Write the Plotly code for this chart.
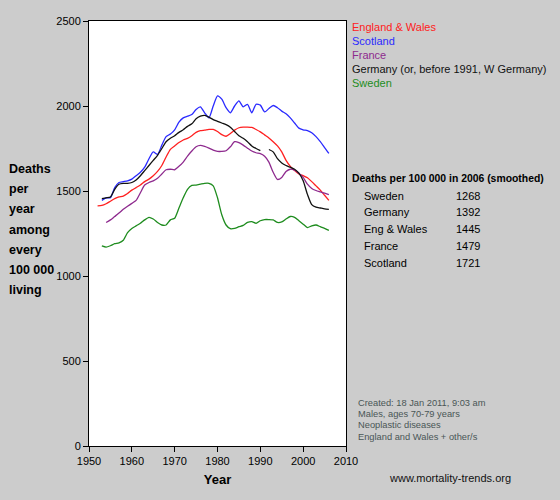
import plotly.graph_objects as go

years = list(range(1952, 2007))

england_wales = [1413, 1415, 1425, 1440, 1455, 1465, 1470, 1485, 1505, 1520, 1535, 1555, 1570, 1590,
                 1615, 1650, 1700, 1745, 1765, 1785, 1800, 1810, 1825, 1845, 1855, 1858, 1862, 1862,
                 1850, 1832, 1822, 1838, 1858, 1872, 1876, 1876, 1874, 1862, 1848, 1830, 1812, 1790,
                 1765, 1730, 1680, 1645, 1620, 1600, 1590, 1578, 1555, 1530, 1505, 1475, 1445]

scotland = [None, 1445, 1460, 1460, 1520, 1550, 1555, 1560, 1570, 1590, 1610, 1640, 1690, 1730,
            1715, 1770, 1820, 1835, 1860, 1905, 1930, 1940, 1950, 1980, 1995, 1960, 1930, 2000,
            2060, 2040, 1990, 1960, 2000, 2030, 1995, 2010, 1960, 2010, 2005, 1965, 1985, 2003,
            1990, 1970, 1955, 1930, 1900, 1870, 1860, 1855, 1843, 1820, 1790, 1755, 1721]

france = [None, None, 1315, 1330, 1350, 1370, 1392, 1410, 1427, 1445, 1490, 1535, 1550, 1560,
          1575, 1600, 1625, 1628, 1625, 1645, 1670, 1705, 1735, 1760, 1768, 1762, 1752, 1740,
          1733, 1733, 1737, 1760, 1790, 1785, 1770, 1752, 1735, 1725, 1720, 1705, 1670, 1610,
          1568, 1580, 1615, 1628, 1622, 1605, 1580, 1540, 1515, 1503, 1495, 1487, 1479]

germany = [None, 1455, 1460, 1465, 1510, 1540, 1545, 1545, 1550, 1565, 1590, 1620, 1650, 1680,
           1710, 1750, 1790, 1810, 1825, 1845, 1860, 1880, 1895, 1925, 1940, 1945, 1935, 1920,
           1910, 1900, 1890, 1875, 1850, 1825, 1810, 1790, 1765, 1750, 1738, None, 1744, 1730,
           1690, 1665, 1650, 1640, 1628, 1605, 1560, 1480, 1420, 1405, 1400, 1395, 1392]

sweden = [None, 1177, 1170, 1178, 1190, 1195, 1210, 1255, 1280, 1295, 1310, 1330, 1345, 1335,
          1315, 1300, 1300, 1330, 1340, 1400, 1460, 1510, 1533, 1535, 1540, 1545, 1545, 1530,
          1460, 1360, 1300, 1278, 1280, 1290, 1298, 1315, 1320, 1310, 1325, 1332, 1332, 1330,
          1315, 1318, 1335, 1350, 1345, 1325, 1305, 1285, 1295, 1300, 1290, 1280, 1268]

series_names = ["England & Wales", "Scotland", "France",
                "Germany (or, before 1991, W Germany)", "Sweden"]
series_values = [england_wales, scotland, france, germany, sweden]
series_colors = ["#ff2020", "#2a2aff", "#8e2a8e", "#111111", "#1e8c1e"]

table_names = ["Sweden", "Germany", "Eng & Wales", "France", "Scotland"]
table_values = ["1268", "1392", "1445", "1479", "1721"]

notes = ["Created: 18 Jan 2011, 9:03 am", "Males, ages 70-79 years",
         "Neoplastic diseases", "England and Wales + other/s"]

y_title_lines = ["Deaths", "per", "year", "among", "every", "100 000", "living"]

FONT = "Liberation Sans, Arial, sans-serif"
BG = "#cccccc"

fig = go.Figure()
for name, vals, col in zip(series_names, series_values, series_colors):
    fig.add_trace(go.Scatter(x=years, y=vals, mode="lines", name=name,
                             line=dict(color=col, width=1.3, shape="spline", smoothing=0.6),
                             connectgaps=False, showlegend=False))

# page offset: the browser's default body margin puts the figure at (8, 8)
OFF = 8
W, H = 560 - OFF, 500 - OFF
PL, PR, PT, PB = 89, 346, 15, 446          # plot area edges in page pixels
L, R, T, B = PL - OFF, W - (PR - OFF), PT - OFF, H - (PB - OFF)

fig.update_layout(
    width=W, height=H,
    margin=dict(l=L, r=R, t=T, b=B, pad=0),
    paper_bgcolor=BG, plot_bgcolor="#ffffff",
    font=dict(family=FONT, size=11, color="#000000"),
    xaxis=dict(range=[1950, 2010], tickvals=[1950, 1960, 1970, 1980, 1990, 2000, 2010],
               showgrid=False, zeroline=False, showline=True, linecolor="#000000", linewidth=1,
               mirror=True, ticks="outside", ticklen=5, tickcolor="#000000",
               tickfont=dict(size=11, family=FONT),
               title=dict(text="<b>Year</b>", font=dict(size=13, family=FONT), standoff=8)),
    yaxis=dict(range=[0, 2500], tickvals=[0, 500, 1000, 1500, 2000, 2500],
               showgrid=False, zeroline=False, showline=True, linecolor="#000000", linewidth=1,
               mirror=True, ticks="outside", ticklen=5, tickcolor="#000000",
               tickfont=dict(size=11, family=FONT)),
)


def add_px(x, y, text, **kw):
    # x, y are page pixels in the reference; convert to paper fraction of plot area
    fx, fy = x - OFF, y - OFF
    px = (fx - L) / (W - L - R)
    py = 1 - (fy - T) / (H - T - B)
    t = f"<b>{text}</b>" if kw.get("bold") else text
    fig.add_annotation(x=px, y=py, xref="paper", yref="paper", text=t, showarrow=False,
                       xanchor=kw.get("anchor", "left"), yanchor="middle",
                       font=dict(size=kw.get("size", 11), color=kw.get("color", "#000000"),
                                 family=kw.get("family", FONT)), align="left")


# Y axis title lines
for i, line in enumerate(y_title_lines):
    add_px(7, 165 + i * 20.5, line, bold=True, size=12.5)

# Legend
for i, (name, col) in enumerate(zip(series_names, series_colors)):
    add_px(350, 21 + i * 14.2, name, color=col, size=11)

# Table
add_px(350, 175, "Deaths per 100 000 in 2006 (smoothed)", bold=True, size=10.4)
for i, (n, v) in enumerate(zip(table_names, table_values)):
    add_px(362, 192 + i * 17.2, n, size=11)
    add_px(454, 192 + i * 17.2, v, size=11)

# Notes
for i, n in enumerate(notes):
    add_px(356, 402 + i * 11.6, n, size=9.3, color="#4a5656")

add_px(450, 478, "www.mortality-trends.org", size=11, anchor="center", color="#111111")

fig.write_html("out.html",
               post_script="document.body.style.background='%s';"
                           "document.documentElement.style.background='%s';" % (BG, BG))
